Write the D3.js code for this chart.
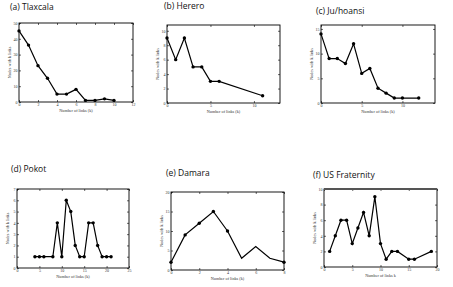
<!DOCTYPE html>
<html><head><meta charset="utf-8">
<script src="https://cdn.jsdelivr.net/npm/d3@7"></script>
<style>body{margin:0;background:#fff}svg{display:block}</style>
</head><body>
<script>
// ---- data ----
const titles = ["(a) Tlaxcala","(b) Herero","(c) Ju/hoansi","(d) Pokot","(e) Damara","(f) US Fraternity"];
const xLabels = ["Number of links (k)","Number of links (k)","Number of links (k)","Number of links (k)","Number of links (k)","Number of links k"];
const yLabels = ["Nodes with k links","Nodes with k links","Nodes with k links","Nodes with k links","Nodes with k links","Nodes with k links"];

const tlaxcalaK = [0,1,2,3,4,5,6,7,8,9,10];
const tlaxcalaN = [45,36,23,15,5,5,8,1,1,2,1];
const hereroK = [0,1,2,3,4,5,6,11];
const hereroN = [9,6,9,5,5,3,3,1];
const juhoansiK = [0,1,2,3,4,5,6,7,8,9,10,12];
const juhoansiN = [14,9,9,8,12,6,7,3,2,1,1,1];
const pokotK = [4,5,6,8,9,10,11,12,13,14,15,16,17,18,19,20,21];
const pokotN = [1,1,1,1,4,1,6,5,2,1,1,4,4,2,1,1,1];
const damaraK = [0,1,2,3,4,5,6,7,8];
const damaraN = [2,9,12,15,10,3,6,3,2];
const damaraMarkedK = [0,1,2,3,4,8];
const fraternityK = [1,2,3,4,5,6,7,8,9,10,11,12,13,15,16,19];
const fraternityN = [2,4,6,6,3,5,7,4,9,3,1,2,2,1,1,2];

const xTickVals = [[0,2,4,6,8,10,12],[0,5,10],[0,5,10],[0,5,10,15,20,25],[0,2,4,6,8],[0,5,10,15,20]];
const yTickVals = [[0,10,20,30,40,50],[0,2,4,6,8,10],[0,5,10,15],[0,1,2,3,4,5,6,7],[0,5,10,15,20],[0,2,4,6,8,10]];
const xDomains = [[0,12],[0,13],[0,14],[0,25],[0,8],[0,20]];
const yDomains = [[0,50],[0,10.8],[0,15.8],[0,7],[0,20],[0,10]];

// ---- layout ----
const frames = [
  {x0:19, x1:133, y0:23, y1:102, tx:10, ty:10},
  {x0:167, x1:280, y0:25, y1:103, tx:164, ty:9},
  {x0:321, x1:435, y0:25, y1:103, tx:316, ty:14},
  {x0:17, x1:129, y0:189, y1:268, tx:11, ty:172},
  {x0:171, x1:284, y0:192, y1:270, tx:166, ty:176},
  {x0:324, x1:437, y0:189, y1:267, tx:313, ty:178}
];
const series = [
  {k:tlaxcalaK, n:tlaxcalaN},
  {k:hereroK, n:hereroN},
  {k:juhoansiK, n:juhoansiN},
  {k:pokotK, n:pokotN},
  {k:damaraK, n:damaraN, marked:damaraMarkedK},
  {k:fraternityK, n:fraternityN}
];

const svg = d3.select("body").append("svg").attr("width",453).attr("height",287);

frames.forEach((f,i)=>{
  const g = svg.append("g");
  const x = d3.scaleLinear().domain(xDomains[i]).range([f.x0,f.x1]);
  const y = d3.scaleLinear().domain(yDomains[i]).range([f.y1,f.y0]);
  const tickFont = "Liberation Serif";

  // title
  svg.append("text").attr("x",f.tx).attr("y",f.ty).text(titles[i])
    .attr("font-family","Open Sans, Liberation Sans, sans-serif").attr("font-size",8.5).attr("fill","#111");

  const ax = (axis, tr) => {
    const a = g.append("g").attr("transform",tr).call(axis);
    a.select(".domain").remove();
    a.selectAll("line").attr("stroke","#000").attr("stroke-width",0.6);
    a.selectAll("text").attr("font-family",tickFont).attr("font-size",4).attr("fill","#333");
    return a;
  };
  ax(d3.axisBottom(x).tickValues(xTickVals[i]).tickSize(-2).tickPadding(1).tickFormat(d3.format("d")), `translate(0,${f.y1})`);
  ax(d3.axisTop(x).tickValues(xTickVals[i]).tickSize(-2).tickFormat(""), `translate(0,${f.y0})`);
  ax(d3.axisLeft(y).tickValues(yTickVals[i]).tickSize(-2).tickPadding(1.5).tickFormat(d3.format("d")), `translate(${f.x0},0)`);
  ax(d3.axisRight(y).tickValues(yTickVals[i]).tickSize(-2).tickFormat(""), `translate(${f.x1},0)`);

  g.append("rect").attr("x",f.x0).attr("y",f.y0).attr("width",f.x1-f.x0).attr("height",f.y1-f.y0)
    .attr("fill","none").attr("stroke","#000").attr("stroke-width",0.9);
  if(i===5){
    g.append("line").attr("x1",f.x0).attr("x2",f.x1).attr("y1",f.y0).attr("y2",f.y0)
      .attr("stroke","#555").attr("stroke-width",1.8);
  }

  g.append("text").attr("x",(f.x0+f.x1)/2).attr("y",f.y1+9.5).attr("text-anchor","middle")
    .attr("font-family",tickFont).attr("font-size",4.2).attr("fill","#333").text(xLabels[i]);
  g.append("text").attr("transform",`translate(${f.x0-8},${(f.y0+f.y1)/2}) rotate(-90)`).attr("text-anchor","middle")
    .attr("font-family",tickFont).attr("font-size",4.2).attr("fill","#333").text(yLabels[i]);

  const s = series[i];
  const pts = s.k.map((k,j)=>({k, n:s.n[j]}));
  g.append("path").datum(pts)
    .attr("d", d3.line().x(d=>x(d.k)).y(d=>y(d.n)))
    .attr("fill","none").attr("stroke","#000").attr("stroke-width",1.2);
  const mk = s.marked ? pts.filter(p=>s.marked.includes(p.k)) : pts;
  g.selectAll("circle.m").data(mk).join("circle")
    .attr("cx",d=>x(d.k)).attr("cy",d=>y(d.n)).attr("r",1.7).attr("fill","#000");
});
</script>
</body></html>
